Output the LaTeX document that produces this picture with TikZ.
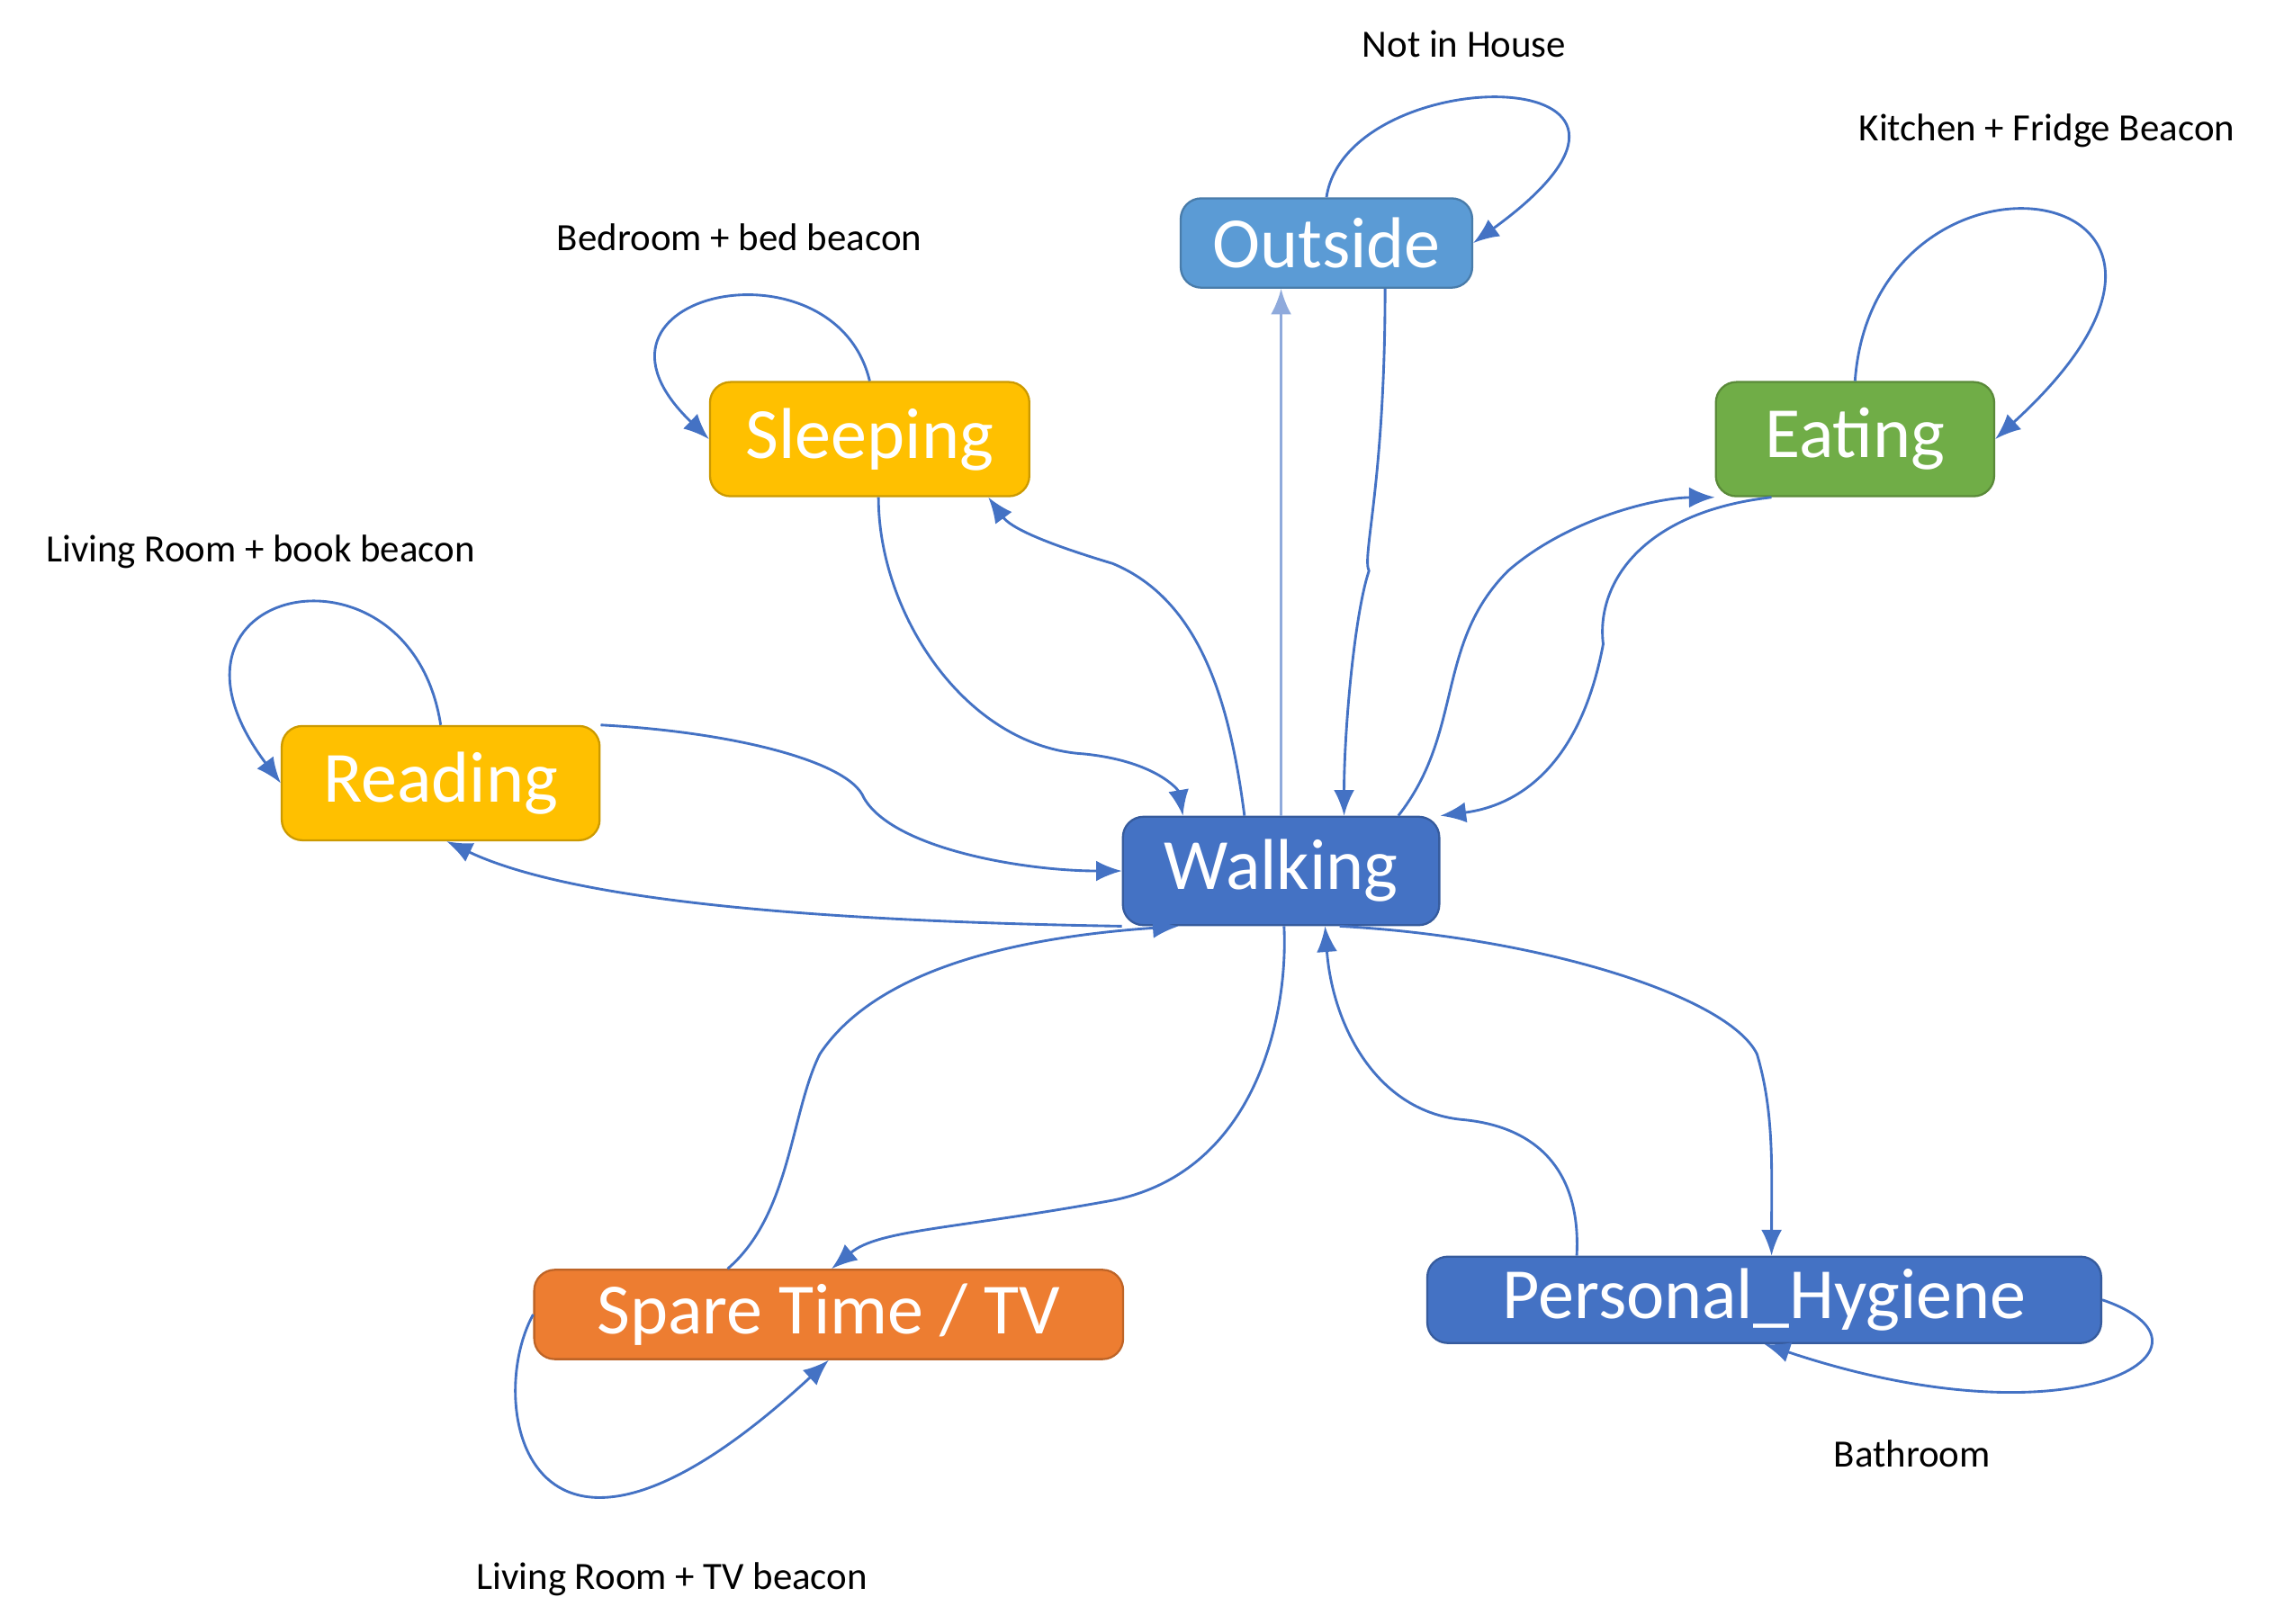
\documentclass[tikz,border=0pt]{standalone}
\usepackage{fontspec}
\setmainfont{Carlito}
\usetikzlibrary{arrows.meta}
\definecolor{eb}{HTML}{4472C4}
\definecolor{lb}{HTML}{5B9BD5}
\definecolor{yl}{HTML}{FFC000}
\definecolor{gr}{HTML}{70AD47}
\definecolor{og}{HTML}{ED7D31}
\begin{document}
\begin{tikzpicture}[x=0.01cm,y=-0.01cm,
 st/.style={rounded corners=4pt,draw=#1!80!black,fill=#1,text=white,font=\fontsize{14}{16}\selectfont,inner sep=0pt},
 lb/.style={font=\fontsize{7.5}{9}\selectfont},
 e/.style={draw=eb,line width=0.5pt,-{Latex[length=5pt,width=4pt]}}]
\useasboundingbox (0,0) rectangle (1560,1109);
\node[st=lb,minimum width=1.99cm,minimum height=0.61cm] (out) at (906,166) {Outside};
\node[st=yl,minimum width=2.18cm,minimum height=0.78cm] (sle) at (594,300) {Sleeping};
\node[st=gr,minimum width=1.90cm,minimum height=0.78cm] (eat) at (1267,300) {Eating};
\node[st=yl,minimum width=2.17cm,minimum height=0.78cm] (rea) at (301,535) {Reading};
\node[st=eb,minimum width=2.16cm,minimum height=0.74cm] (wal) at (875,595) {Walking};
\node[st=og,minimum width=4.02cm,minimum height=0.61cm] (spa) at (566,898) {Spare Time / TV};
\node[st=eb,minimum width=4.60cm,minimum height=0.59cm] (hyg) at (1205,888) {Personal\_Hygiene};
\node[lb] (l1) at (1000,30) {Not in House};
\node[lb] (l2) at (505,162) {Bedroom + bed beacon};
\node[lb] (l3) at (1398,89) {Kitchen + Fridge Beacon};
\node[lb] (l4) at (178,377) {Living Room + book beacon};
\node[lb] (l5) at (459,1079) {Living Room + TV beacon};
\node[lb] (l6) at (1306,993) {Bathroom};
% self loops
\draw[e] (out.north) .. controls (920,40) and (1180,40) .. (out.east);
\draw[e] (sle.north) .. controls (570,160) and (380,200) .. (sle.west);
\draw[e] (eat.north) .. controls (1280,80) and (1560,120) .. (eat.east);
\draw[e] (rea.north) .. controls (280,360) and (90,400) .. (rea.west);
\draw[e] (spa.west) .. controls (330,960) and (360,1120) .. (spa.south);
\draw[e] (hyg.east) .. controls (1530,920) and (1420,990) .. (hyg.south);
% outside
\draw[e,draw=eb!60] (wal.north) -- (out.south -| wal.north);
\draw[e] ([xshift=0.4cm]out.south) .. controls (946,330) and (930,380) .. (935,390) .. controls (925,420) and (918,500) .. ([xshift=0.43cm]wal.north);
% sleeping
\draw[e] ([xshift=0.06cm]sle.south) .. controls (600,420) and (660,510) .. (740,515) .. controls (790,520) and (805,540) .. ([xshift=-0.67cm]wal.north);
\draw[e] ([xshift=-0.25cm]wal.north) .. controls (840,480) and (820,410) .. (760,385) .. controls (710,370) and (690,360) .. ([xshift=0.81cm]sle.south);
% eating
\draw[e] ([xshift=0.8cm]wal.north) .. controls (1000,500) and (980,440) .. (1030,390) .. controls (1070,355) and (1130,340) .. (eat.south west);
\draw[e] ([xshift=-0.57cm]eat.south) .. controls (1120,350) and (1090,400) .. (1095,440) .. controls (1080,520) and (1040,550) .. (wal.north east);
% reading
\draw[e] (rea.north east) .. controls (500,500) and (580,520) .. (590,545) .. controls (610,580) and (700,595) .. (wal.west);
\draw[e] (wal.south west) .. controls (600,630) and (400,620) .. ([xshift=0.04cm]rea.south);
% spare
\draw[e] ([xshift=-0.69cm]spa.north) .. controls (540,830) and (540,760) .. (560,720) .. controls (600,660) and (700,640) .. ([xshift=-0.7cm]wal.south);
\draw[e] ([xshift=0.02cm]wal.south) .. controls (880,690) and (860,800) .. (760,820) .. controls (650,840) and (600,840) .. ([xshift=0.02cm]spa.north);
% hygiene
\draw[e] ([xshift=0.4cm]wal.south) .. controls (1050,640) and (1180,680) .. (1200,720) .. controls (1212,760) and (1210,800) .. ([xshift=0.05cm]hyg.north);
\draw[e] ([xshift=-1.28cm]hyg.north) .. controls (1080,800) and (1050,770) .. (1000,765) .. controls (940,760) and (910,700) .. ([xshift=0.3cm]wal.south);
\end{tikzpicture}
\end{document}
